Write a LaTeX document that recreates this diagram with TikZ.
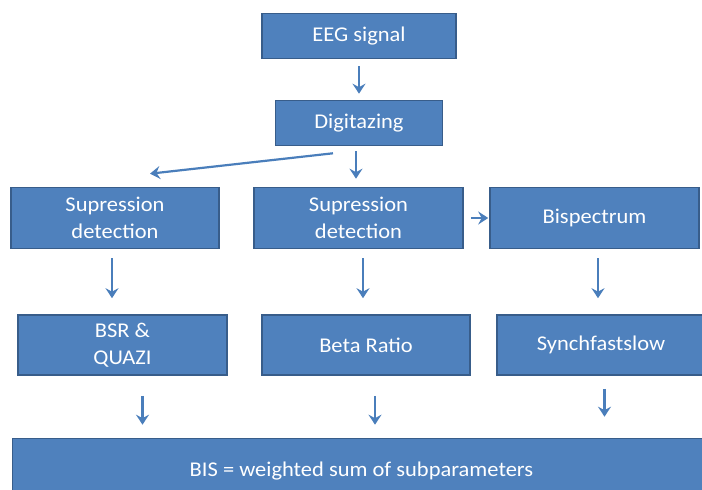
\documentclass[tikz,border=0pt]{standalone}
\usepackage{fontspec}
\setmainfont{Carlito}[FakeStretch=1.07]
\usetikzlibrary{arrows.meta}
\definecolor{boxfill}{HTML}{4F81BD}
\definecolor{boxedge}{HTML}{385D8A}
\definecolor{arrowcol}{HTML}{4A7EBB}
\tikzset{>={Stealth[length=10pt,width=13pt,inset=3.5pt]}}
\tikzset{
  block/.style={fill=boxfill,draw=boxedge,line width=1.6pt,text=white,
    font=\fontsize{21}{27}\selectfont,align=center,inner sep=0pt},
  arr/.style={draw=arrowcol,line width=2.2pt,->}
}

\begin{document}
\begin{tikzpicture}[x=1pt,y=1pt]
        \useasboundingbox (0,0) rectangle (702,490);
        \clip (0,0) rectangle (702,490);
        \node[block,minimum width=194pt,minimum height=45pt] (eeg) at (359,454) {EEG signal};
        \node[block,minimum width=167pt,minimum height=45pt] (dig) at (359,367) {Digitazing};
        \node[block,minimum width=208pt,minimum height=61pt] (supl) at (115,272) {Supression\\detection};
        \node[block,minimum width=209pt,minimum height=61pt] (supm) at (358.5,272) {Supression\\detection};
        \node[block,minimum width=209pt,minimum height=61pt] (bisp) at (594.5,272) {Bispectrum};
        \node[block,minimum width=209pt,minimum height=60pt] (bsr) at (122.5,145) {BSR \&\\QUAZI};
        \node[block,minimum width=208pt,minimum height=60pt] (beta) at (366,145) {Beta Ratio};
        \node[block,minimum width=208pt,minimum height=60pt] (sync) at (601,145) {Synchfastslow};
        \node[block,minimum width=698pt,minimum height=65pt] (bis) at (361.5,19) {BIS = weighted sum of subparameters};
        \draw[arr,shorten <=7pt,shorten >=6pt] (eeg) -- (dig);
        \draw[arr] ([xshift=-26pt,yshift=-7pt]dig.south) -- ([xshift=35pt,yshift=13pt]supl.north);
        \draw[arr,shorten <=5pt,shorten >=8pt] ([xshift=-3pt]dig.south) -- ([xshift=-2.5pt]supm.north);
        \draw[arr,shorten <=7pt,shorten >=1pt] (supm) -- (bisp);
        \draw[arr,shorten <=9pt,shorten >=16pt] ([xshift=-3pt]supl.south) -- ([xshift=-3pt]supl.south |- bsr.north);
        \draw[arr,shorten <=9pt,shorten >=16pt] ([xshift=4.5pt]supm.south) -- ([xshift=4.5pt]supm.south |- beta.north);
        \draw[arr,shorten <=9pt,shorten >=16pt] ([xshift=3.5pt]bisp.south) -- ([xshift=3.5pt]bisp.south |- sync.north);
        \draw[arr,shorten <=20pt,shorten >=13pt] ([xshift=20pt]bsr.south) -- ([xshift=20pt]bsr.south |- bis.north);
        \draw[arr,shorten <=20pt,shorten >=13pt] ([xshift=9pt]beta.south) -- ([xshift=9pt]beta.south |- bis.north);
        \draw[arr,shorten <=13pt,shorten >=21pt] ([xshift=3.5pt]sync.south) -- ([xshift=3.5pt]sync.south |- bis.north);
\end{tikzpicture}
\end{document}
